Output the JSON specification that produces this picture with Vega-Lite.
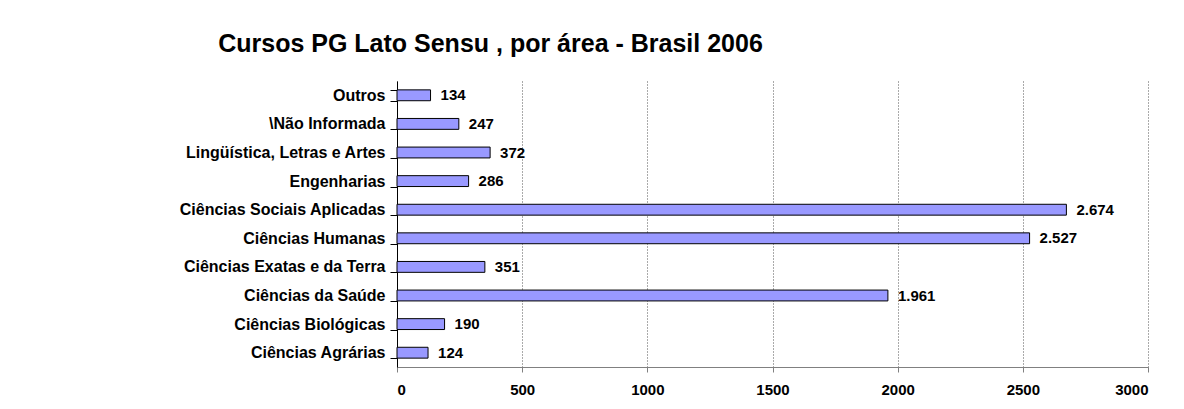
{
  "$schema": "https://vega.github.io/schema/vega-lite/v6.json",
  "autosize": "none",
  "width": 751,
  "height": 286,
  "padding": {"left": 397, "top": 81, "right": 36, "bottom": 42},
  "background": "white",
  "config": {
    "font": "Liberation Sans",
    "view": {"stroke": null},
    "locale": {"number": {"decimal": ",", "thousands": ".", "grouping": [3], "currency": ["R$", ""]}}
  },
  "title": {
    "text": "Cursos PG Lato Sensu , por área - Brasil 2006",
    "font": "Liberation Sans",
    "fontSize": 25,
    "fontWeight": "bold",
    "color": "black",
    "anchor": "middle",
    "frame": "group",
    "dx": -282,
    "baseline": "alphabetic",
    "offset": -4
  },
  "data": {
    "values": [
      {"area": "Outros", "cursos": 134},
      {"area": "\\Não Informada", "cursos": 247},
      {"area": "Lingüística, Letras e Artes", "cursos": 372},
      {"area": "Engenharias", "cursos": 286},
      {"area": "Ciências Sociais Aplicadas", "cursos": 2674},
      {"area": "Ciências Humanas", "cursos": 2527},
      {"area": "Ciências Exatas e da Terra", "cursos": 351},
      {"area": "Ciências da Saúde", "cursos": 1961},
      {"area": "Ciências Biológicas", "cursos": 190},
      {"area": "Ciências Agrárias", "cursos": 124}
    ]
  },
  "encoding": {
    "y": {
      "field": "area",
      "type": "nominal",
      "sort": null,
      "scale": {"paddingInner": 0.62, "paddingOuter": 0.31},
      "axis": {
        "title": null,
        "tickBand": "extent",
        "tickSize": 7,
        "tickColor": "black",
        "domainColor": "black",
        "labelFont": "Liberation Sans",
        "labelFontSize": 16,
        "labelFontWeight": "bold",
        "labelColor": "black",
        "labelPadding": 5,
        "labelLimit": 400,
        "grid": false
      }
    },
    "x": {
      "field": "cursos",
      "type": "quantitative",
      "scale": {"domain": [0, 3000], "nice": false},
      "axis": {
        "title": null,
        "values": [0, 500, 1000, 1500, 2000, 2500, 3000],
        "format": "d",
        "grid": true,
        "gridColor": "#555555",
        "gridDash": [1, 2],
        "gridWidth": 1,
        "domainColor": "#808080",
        "tickColor": "#808080",
        "tickSize": 5,
        "labelFont": "Liberation Sans",
        "labelFontSize": 15,
        "labelFontWeight": "bold",
        "labelColor": "black",
        "labelPadding": 10
      }
    }
  },
  "layer": [
    {
      "mark": {"type": "bar", "color": "#9999FF", "stroke": "black", "strokeWidth": 1}
    },
    {
      "mark": {"type": "text", "align": "left", "baseline": "middle", "dx": 10, "font": "Liberation Sans", "fontSize": 15, "fontWeight": "bold", "color": "black"},
      "encoding": {
        "text": {"field": "cursos", "type": "quantitative", "format": ",d"}
      }
    }
  ]
}
